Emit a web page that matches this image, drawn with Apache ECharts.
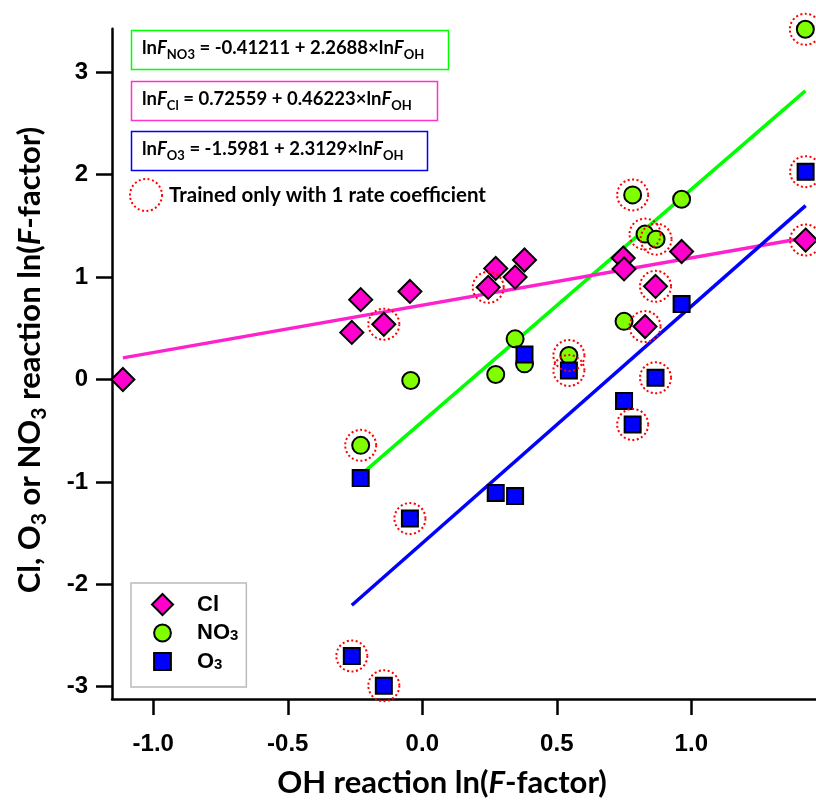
<!DOCTYPE html>
<html><head><meta charset="utf-8">
<script src="https://cdn.jsdelivr.net/npm/echarts@6/dist/echarts.min.js"></script>
<style>html,body{margin:0;padding:0;background:#fff}#c{width:816px;height:800px}</style>
</head><body><div id="c"></div>
<script>
// ---- data ----
const xTicks = [-1.0, -0.5, 0.0, 0.5, 1.0];
const yTicks = [-3, -2, -1, 0, 1, 2, 3];

const clX = [-1.113, -0.262, -0.229, -0.143, -0.046, 0.245, 0.273, 0.345, 0.380, 0.747, 0.750, 0.964, 0.867, 0.828, 1.425];
const clY = [0.0, 0.46, 0.78, 0.54, 0.86, 0.90, 1.085, 1.00, 1.167, 1.186, 1.08, 1.25, 0.91, 0.517, 1.362];
const clTrained = [0, 0, 0, 1, 0, 1, 0, 0, 0, 0, 0, 0, 1, 1, 1];

const no3X = [-0.229, -0.043, 0.273, 0.345, 0.380, 0.545, 0.782, 0.828, 0.869, 0.964, 0.750, 1.424];
const no3Y = [-0.643, -0.01, 0.049, 0.397, 0.153, 0.234, 1.803, 1.42, 1.371, 1.761, 0.568, 3.42];
const no3Trained = [1, 0, 0, 0, 0, 1, 1, 1, 1, 0, 0, 1];

const o3X = [-0.262, -0.143, -0.229, -0.046, 0.273, 0.345, 0.380, 0.545, 0.750, 0.782, 0.867, 0.964, 1.425];
const o3Y = [-2.70, -2.99, -0.962, -1.358, -1.108, -1.137, 0.244, 0.088, -0.211, -0.439, 0.017, 0.738, 2.03];
const o3Trained = [1, 1, 0, 1, 0, 0, 0, 1, 0, 1, 1, 0, 1];

// regression coefficients [intercept, slope]
const fitNO3 = [-0.41211, 2.2688];
const fitCl = [0.72559, 0.46223];
const fitO3 = [-1.5981, 2.3129];

// ---- build ----
const pts = (xs, ys) => xs.map((x, i) => [x, ys[i]]);
const trainedPts = [];
[[clX, clY, clTrained], [no3X, no3Y, no3Trained], [o3X, o3Y, o3Trained]].forEach(([xs, ys, t]) => {
  xs.forEach((x, i) => { if (t[i]) trainedPts.push([x, ys[i]]); });
});
const fitLine = (xs, f) => {
  const a = Math.min(...xs), b = Math.max(...xs);
  return [[a, f[0] + f[1] * a], [b, f[0] + f[1] * b]];
};

const TF = 'Liberation Sans, Arial, sans-serif';
const CF = 'Lato, sans-serif';

const chart = echarts.init(document.getElementById('c'), null, {renderer: 'canvas'});

const eqRich = (size) => ({
  m: {fontSize: size, fontWeight: 'bold', fontFamily: CF, color: '#000', lineHeight: 26, verticalAlign: 'middle'},
  i: {fontSize: size, fontWeight: 'bold', fontStyle: 'italic', fontFamily: CF, color: '#000', lineHeight: 26, verticalAlign: 'middle'},
  s: {fontSize: Math.round(size * 0.68), fontWeight: 'bold', fontFamily: CF, color: '#000', lineHeight: 13, verticalAlign: 'bottom'}
});

const eqBox = (y, w, color, text) => ([
  {type: 'rect', left: 129, top: y, shape: {width: w, height: 39}, style: {fill: 'none', stroke: color, lineWidth: 1.5}, z: 10},
  {type: 'text', x: 142, y: y + 20, style: {text: text, rich: eqRich(18.5), verticalAlign: 'middle', align: 'left'}, z: 10}
]);

const option = {
  animation: false,
  backgroundColor: '#fff',
  grid: {left: 112, top: 28.7, width: 704, height: 670.3},
  xAxis: {
    type: 'value', min: -1.1535, max: 1.4636,
    axisLine: {onZero: false, lineStyle: {color: '#000', width: 2.5}},
    axisTick: {show: true, inside: false, length: 16, lineStyle: {color: '#000', width: 2.5}, customValues: xTicks},
    axisLabel: {customValues: xTicks, formatter: v => v.toFixed(1), color: '#000', fontFamily: TF, fontWeight: 'bold', fontSize: 24, margin: 33},
    splitLine: {show: false}
  },
  yAxis: {
    type: 'value', min: -3.12, max: 3.426,
    axisLine: {onZero: false, lineStyle: {color: '#000', width: 2.5}},
    axisTick: {show: true, inside: false, length: 16, lineStyle: {color: '#000', width: 2.5}, customValues: yTicks},
    axisLabel: {customValues: yTicks, formatter: v => String(v), color: '#000', fontFamily: TF, fontWeight: 'bold', fontSize: 24, margin: 24},
    splitLine: {show: false}
  },
  legend: {
    data: [
      {name: 'Cl', icon: 'path://M10,0L20,10L10,20L0,10Z'},
      {name: 'NO3', icon: 'path://M0,0M20,20M18,10A8,8,0,1,1,2,10A8,8,0,1,1,18,10Z'},
      {name: 'O3', icon: 'path://M0,0M20,20M2,2L18,2L18,18L2,18Z'}
    ],
    orient: 'vertical', left: 131, top: 583,
    borderColor: '#bbbbbb', borderWidth: 1.5, borderRadius: 0,
    padding: [10, 8, 14, 20],
    itemWidth: 21, itemHeight: 21, itemGap: 5.5,
    itemStyle: {opacity: 1},
    formatter: n => n === 'NO3' ? 'NO{s|3}' : (n === 'O3' ? 'O{s|3}' : n),
    textStyle: {
      color: '#000', fontFamily: TF, fontWeight: 'bold', fontSize: 22, lineHeight: 21, padding: [0, 0, 0, 19],
      rich: {s: {fontFamily: TF, fontWeight: 'bold', fontSize: 15, lineHeight: 10, verticalAlign: 'bottom', color: '#000'}}
    }
  },
  series: [
    {type: 'line', data: fitLine(no3X, fitNO3), symbol: 'none', lineStyle: {color: '#00FF00', width: 3.5}, silent: true, z: 1},
    {type: 'line', data: fitLine(clX, fitCl), symbol: 'none', lineStyle: {color: '#FF22CC', width: 3.5}, silent: true, z: 1},
    {type: 'line', data: fitLine(o3X, fitO3), symbol: 'none', lineStyle: {color: '#0000FF', width: 3.5}, silent: true, z: 1},
    {name: 'NO3', type: 'scatter', data: pts(no3X, no3Y), symbol: 'circle', symbolSize: 17,
      itemStyle: {color: '#80FF00', borderColor: '#000', borderWidth: 2, opacity: 1}, z: 3},
    {name: 'Cl', type: 'scatter', data: pts(clX, clY), symbol: 'diamond', symbolSize: 23,
      itemStyle: {color: '#FF00CC', borderColor: '#000', borderWidth: 2, opacity: 1}, z: 3},
    {name: 'O3', type: 'scatter', data: pts(o3X, o3Y), symbol: 'rect', symbolSize: 16,
      itemStyle: {color: '#0000FF', borderColor: '#000', borderWidth: 2, opacity: 1}, z: 3},
    {name: 'trained', type: 'scatter', data: trainedPts, symbol: 'circle', symbolSize: 31,
      itemStyle: {color: 'rgba(0,0,0,0)', borderColor: '#FF0000', borderWidth: 2, borderType: [2, 2.5], opacity: 1}, z: 4, silent: true}
  ],
  graphic: [
    ...eqBox(28, 317, '#00FF00', '{m|ln}{i|F}{s|NO3}{m| = -0.41211 + 2.2688×ln}{i|F}{s|OH}'),
    ...eqBox(79, 306, '#FF33CC', '{m|ln}{i|F}{s|Cl}{m| = 0.72559 + 0.46223×ln}{i|F}{s|OH}'),
    ...eqBox(129, 296, '#0000FF', '{m|ln}{i|F}{s|O3}{m| = -1.5981 + 2.3129×ln}{i|F}{s|OH}'),
    {type: 'circle', shape: {cx: 146, cy: 195, r: 16}, style: {fill: 'none', stroke: '#FF0000', lineWidth: 2, lineDash: [2, 2.5]}, z: 10},
    {type: 'text', x: 169, y: 195, style: {text: 'Trained only with 1 rate coefficient', font: 'bold 20.5px Lato, sans-serif', fill: '#000', verticalAlign: 'middle', align: 'left'}, z: 10},
    {type: 'text', x: 442, y: 783, style: {
      text: '{m|OH reaction ln(}{i|F}{m|-factor)}', align: 'center', verticalAlign: 'middle',
      rich: {
        m: {fontSize: 31, fontWeight: 'bold', fontFamily: CF, color: '#000', lineHeight: 36, verticalAlign: 'middle'},
        i: {fontSize: 31, fontWeight: 'bold', fontStyle: 'italic', fontFamily: CF, color: '#000', lineHeight: 36, verticalAlign: 'middle'}
      }}, z: 10},
    {type: 'text', x: 30, y: 360, rotation: Math.PI / 2, style: {
      text: '{m|Cl, O}{s|3}{m| or NO}{s|3}{m| reaction ln(}{i|F}{m|-factor)}', align: 'center', verticalAlign: 'middle',
      rich: {
        m: {fontSize: 31, fontWeight: 'bold', fontFamily: CF, color: '#000', lineHeight: 40, verticalAlign: 'middle'},
        i: {fontSize: 31, fontWeight: 'bold', fontStyle: 'italic', fontFamily: CF, color: '#000', lineHeight: 40, verticalAlign: 'middle'},
        s: {fontSize: 21, fontWeight: 'bold', fontFamily: CF, color: '#000', lineHeight: 20, verticalAlign: 'bottom'}
      }}, z: 10}
  ]
};
chart.setOption(option);
</script>
</body></html>
